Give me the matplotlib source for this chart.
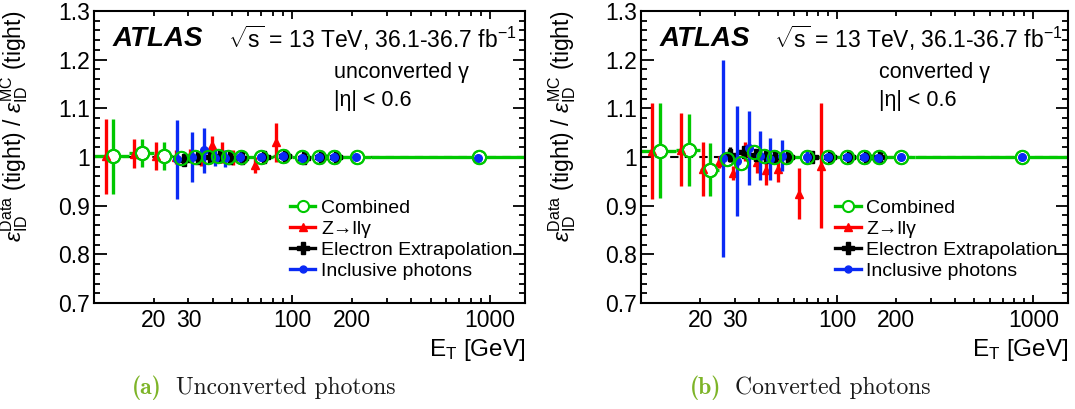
import matplotlib
matplotlib.use('Agg')
import matplotlib.pyplot as plt
from matplotlib.lines import Line2D
from matplotlib.ticker import FixedLocator, FixedFormatter, MultipleLocator, FuncFormatter

plt.rcParams['font.family'] = ['Liberation Sans', 'DejaVu Sans']
plt.rcParams['mathtext.fontset'] = 'custom'
plt.rcParams['mathtext.rm'] = 'Liberation Sans'
plt.rcParams['mathtext.it'] = 'Liberation Sans:italic'
plt.rcParams['mathtext.bf'] = 'Liberation Sans:bold'

GREEN = '#00c800'
RED = '#ff0000'
BLACK = '#000000'
BLUE = '#0a2af5'

# Combined measurement: bin centres and half widths in E_T (GeV)
COMB_ET = [12.5, 17.5, 22.5, 27.5, 32.5, 37.5, 42.5, 47.5, 55, 70, 90, 112.5, 137.5, 162.5, 212.5, 875]
COMB_HW = [2.5, 2.5, 2.5, 2.5, 2.5, 2.5, 2.5, 2.5, 5, 10, 10, 12.5, 12.5, 12.5, 37.5, 625]

# ---- unconverted photons, |eta| < 0.6 ----
UNC_COMB = [1.002, 1.009, 1.002, 0.997, 0.999, 1.001, 1.003, 1.001, 0.999, 1.001, 1.003, 1.001, 1.001, 1.001, 1.000, 1.000]
UNC_COMB_ERR = [0.077, 0.029, 0.028, 0.010, 0.008, 0.007, 0.006, 0.006, 0.005, 0.004, 0.004, 0.003, 0.003, 0.003, 0.003, 0.004]

UNC_Z_ET = [11.5, 16.0, 20.6, 26.0, 30.5, 34.5, 39.3, 44.1, 50.6, 65.1, 83.2]
UNC_Z = [1.002, 1.007, 1.002, 1.000, 1.004, 0.996, 1.024, 1.009, 0.999, 0.984, 1.030]
UNC_Z_ERR = [0.077, 0.029, 0.029, 0.015, 0.012, 0.014, 0.020, 0.022, 0.015, 0.017, 0.040]

UNC_EL_ET = [28.5, 33.5, 38.5, 43.5, 48.5, 56.0, 72.0, 92.0, 115.0, 140.0, 166.0]
UNC_EL = [0.994, 0.998, 1.000, 1.003, 0.998, 0.998, 1.000, 1.003, 0.998, 0.999, 1.000]
UNC_EL_ERR = [0.006, 0.005, 0.004, 0.004, 0.004, 0.003, 0.003, 0.003, 0.003, 0.003, 0.003]

UNC_INC_ET = [26.2, 31.3, 36.0, 40.8, 45.8, 54.6, 69.6, 89.6, 112.0, 137.0, 162.0, 210.0, 868.0]
UNC_INC = [0.995, 1.000, 1.014, 0.998, 0.997, 1.000, 1.001, 1.002, 0.998, 0.999, 1.000, 0.999, 0.998]
UNC_INC_ERR = [0.081, 0.051, 0.046, 0.016, 0.018, 0.010, 0.006, 0.006, 0.004, 0.004, 0.004, 0.004, 0.004]

# ---- converted photons, |eta| < 0.6 ----
CNV_COMB = [1.013, 1.014, 0.974, 0.995, 0.988, 1.010, 1.003, 1.001, 1.000, 1.001, 1.001, 1.000, 1.000, 1.000, 1.000, 1.000]
CNV_COMB_ERR = [0.098, 0.074, 0.054, 0.012, 0.010, 0.010, 0.008, 0.007, 0.006, 0.005, 0.004, 0.004, 0.004, 0.004, 0.005, 0.005]

CNV_Z_ET = [11.4, 15.9, 20.6, 25.0, 29.4, 33.9, 38.8, 43.5, 50.2, 64.0, 82.4]
CNV_Z = [1.012, 1.015, 0.975, 0.990, 0.967, 1.011, 0.990, 0.973, 0.975, 0.925, 0.982]
CNV_Z_ERR = [0.098, 0.075, 0.055, 0.012, 0.014, 0.020, 0.023, 0.030, 0.027, 0.053, 0.128]

CNV_EL_ET = [28.3, 33.4, 38.5, 43.5, 48.0, 56.0, 74.0, 92.0, 115.0, 140.0, 166.0]
CNV_EL = [1.005, 1.010, 1.005, 1.000, 1.000, 1.000, 1.000, 1.000, 1.000, 1.000, 1.000]
CNV_EL_ERR = [0.015, 0.012, 0.010, 0.008, 0.007, 0.006, 0.005, 0.005, 0.004, 0.004, 0.004]

CNV_INC_ET = [26.2, 30.9, 35.7, 40.6, 45.3, 52.3, 70.0, 90.0, 112.0, 137.0, 162.0, 212.0, 875.0]
CNV_INC = [0.997, 0.991, 1.018, 1.003, 0.996, 1.003, 1.000, 1.000, 0.999, 0.999, 0.998, 1.000, 1.000]
CNV_INC_ERR = [0.203, 0.113, 0.076, 0.050, 0.044, 0.031, 0.012, 0.006, 0.006, 0.005, 0.005, 0.004, 0.004]

X_MAJOR = [100, 1000]
X_MINOR = [20, 30, 40, 50, 60, 70, 80, 90, 200, 300, 400, 500, 600, 700, 800, 900]
X_MINOR_LABELED = [20, 30, 200]
Y_TICKS = [0.7, 0.8, 0.9, 1.0, 1.1, 1.2, 1.3]
Y_TICK_LABELS = ['0.7', '0.8', '0.9', '1', '1.1', '1.2', '1.3']


def draw_panel(ax, comb, comb_err, z_et, z, z_err, el_et, el, el_err,
               inc_et, inc, inc_err, label_lines):
    ax.axhline(1.0, color='black', ls=(0, (4, 3)), lw=1.5, zorder=1)

    ax.errorbar(COMB_ET, comb, xerr=COMB_HW, yerr=comb_err, fmt='none',
                ecolor=GREEN, elinewidth=2.4, capsize=0, zorder=2)
    ax.plot(COMB_ET, comb, 'o', ls='none', mfc='white', mec=GREEN,
            ms=9.5, mew=1.5, zorder=3)

    ax.errorbar(z_et, z, yerr=z_err, fmt='^', color=RED, ms=6,
                elinewidth=2.4, capsize=0, zorder=4)
    ax.errorbar(el_et, el, yerr=el_err, fmt='P', color=BLACK, ms=8,
                elinewidth=2.4, capsize=0, zorder=5)
    ax.errorbar(inc_et, inc, yerr=inc_err, fmt='o', color=BLUE, ms=5.5,
                elinewidth=2.4, capsize=0, zorder=6)

    # open circles again on top so other markers show inside them
    ax.plot(COMB_ET, comb, 'o', ls='none', mfc='none', mec=GREEN,
            ms=9.5, mew=1.5, zorder=7)

    ax.set_xscale('log')
    ax.set_xlim(10, 1500)
    ax.set_ylim(0.7, 1.3)

    ax.xaxis.set_major_locator(FixedLocator(X_MAJOR))
    ax.xaxis.set_major_formatter(FixedFormatter([str(v) for v in X_MAJOR]))
    ax.xaxis.set_minor_locator(FixedLocator(X_MINOR))
    ax.xaxis.set_minor_formatter(FuncFormatter(
        lambda v, pos: str(int(round(v))) if int(round(v)) in X_MINOR_LABELED else ''))
    ax.yaxis.set_major_locator(FixedLocator(Y_TICKS))
    ax.yaxis.set_major_formatter(FixedFormatter(Y_TICK_LABELS))
    ax.yaxis.set_minor_locator(MultipleLocator(0.02))

    ax.tick_params(which='both', direction='in', top=True, right=True,
                   labelsize=16.5, width=1.3)
    ax.tick_params(axis='y', which='major', length=9, pad=3)
    ax.tick_params(axis='y', which='minor', length=4.5)
    ax.tick_params(axis='x', which='major', length=6, pad=4)
    ax.tick_params(axis='x', which='minor', length=3.5, pad=4)
    for sp in ax.spines.values():
        sp.set_linewidth(1.5)

    ax.set_xlabel(r'E$_{\rm T}$ [GeV]', fontsize=17.5, ha='right')
    ax.xaxis.set_label_coords(1.0, -0.115)
    ax.set_ylabel(r'$\varepsilon_{\rm ID}^{\rm Data}$ (tight) / '
                  r'$\varepsilon_{\rm ID}^{\rm MC}$ (tight)',
                  fontsize=16.5, ha='right')
    ax.yaxis.set_label_coords(-0.148, 1.0)

    ax.text(0.044, 0.905, 'ATLAS', transform=ax.transAxes, fontsize=20,
            fontweight='bold', fontstyle='italic', va='center')
    ax.text(0.311, 0.905, r'$\sqrt{\rm s}$ = 13 TeV, 36.1-36.7 fb$^{-1}$',
            transform=ax.transAxes, fontsize=16.5, va='center')
    ax.text(0.557, 0.79, label_lines[0], transform=ax.transAxes,
            fontsize=15.5, va='center')
    ax.text(0.557, 0.695, label_lines[1], transform=ax.transAxes,
            fontsize=15.5, va='center')

    handles = [
        Line2D([], [], color=GREEN, lw=2.4, marker='o', mfc='white', mec=GREEN, ms=8, mew=1.5),
        Line2D([], [], color=RED, lw=2.4, marker='^', ms=6),
        Line2D([], [], color=BLACK, lw=2.4, marker='P', ms=8),
        Line2D([], [], color=BLUE, lw=2.4, marker='o', ms=5),
    ]
    labels = ['Combined', 'Z→llγ', 'Electron Extrapolation', 'Inclusive photons']
    ax.legend(handles, labels, loc='upper left', bbox_to_anchor=(0.455, 0.354),
              frameon=False, fontsize=14, handlelength=1.3, handletextpad=0.3,
              labelspacing=0.17, borderpad=0, borderaxespad=0)


fig = plt.figure(figsize=(10.75, 4.09), dpi=100)
ax_a = fig.add_axes([94 / 1075, 1 - 303 / 409, 431 / 1075, 292 / 409])
ax_b = fig.add_axes([641 / 1075, 1 - 303 / 409, 427 / 1075, 292 / 409])

draw_panel(ax_a, UNC_COMB, UNC_COMB_ERR, UNC_Z_ET, UNC_Z, UNC_Z_ERR,
           UNC_EL_ET, UNC_EL, UNC_EL_ERR, UNC_INC_ET, UNC_INC, UNC_INC_ERR,
           ['unconverted γ', '|η| < 0.6'])
draw_panel(ax_b, CNV_COMB, CNV_COMB_ERR, CNV_Z_ET, CNV_Z, CNV_Z_ERR,
           CNV_EL_ET, CNV_EL, CNV_EL_ERR, CNV_INC_ET, CNV_INC, CNV_INC_ERR,
           ['converted γ', '|η| < 0.6'])

CAPTION_GREEN = '#7db428'
cap_y = 1 - 388 / 409
fig.text(132 / 1075, cap_y, '(a)', fontfamily='cmb10', fontsize=17,
         color=CAPTION_GREEN, va='center')
fig.text(176 / 1075, cap_y, 'Unconverted photons', fontfamily='cmr10',
         fontsize=17, color='#1a1a1a', va='center')
fig.text(690 / 1075, cap_y, '(b)', fontfamily='cmb10', fontsize=17,
         color=CAPTION_GREEN, va='center')
fig.text(735 / 1075, cap_y, 'Converted photons', fontfamily='cmr10',
         fontsize=17, color='#1a1a1a', va='center')

fig.savefig('out.png', dpi=100)
